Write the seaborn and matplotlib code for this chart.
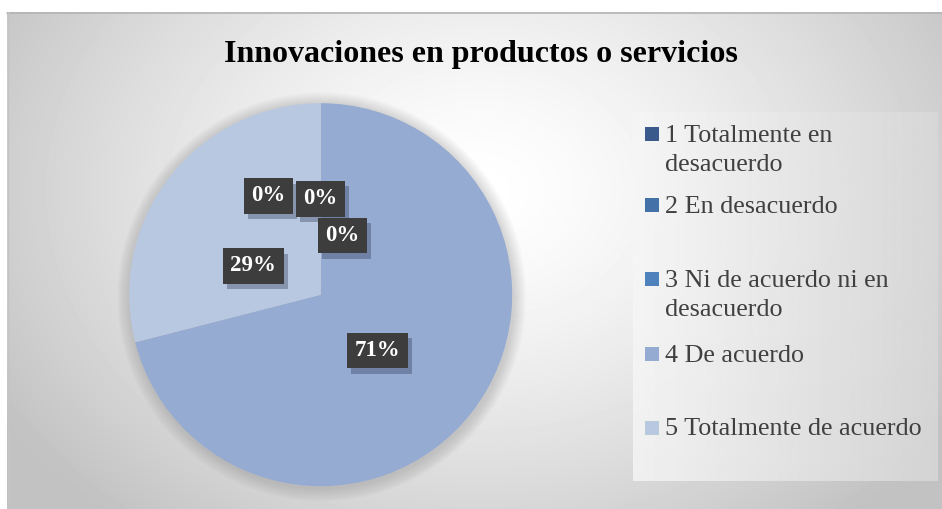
import numpy as np
import seaborn as sns
import matplotlib.pyplot as plt
import matplotlib.patheffects as pe
from matplotlib.patches import Rectangle, Circle

# data
categories = ["1 Totalmente en desacuerdo", "2 En desacuerdo",
              "3 Ni de acuerdo ni en desacuerdo", "4 De acuerdo",
              "5 Totalmente de acuerdo"]
legend_lines = [["1 Totalmente en", "desacuerdo"], ["2 En desacuerdo"],
                ["3 Ni de acuerdo ni en", "desacuerdo"], ["4 De acuerdo"],
                ["5 Totalmente de acuerdo"]]
values = [0, 0, 0, 71, 29]
title = "Innovaciones en productos o servicios"

colors = sns.color_palette(["#3b5a8c", "#4472a8", "#4f81bd", "#95abd2", "#b9c8e1"])

sns.set_theme(style="white")
plt.rcParams['font.family'] = ['Liberation Serif', 'DejaVu Serif']

W, H = 942, 509
fig = plt.figure(figsize=(W / 100, H / 100), dpi=100)

# background: radial grey gradient inside the chart frame
bg = fig.add_axes([0, 0, 1, 1])
yy, xx = np.mgrid[0:H, 0:W]
r = np.hypot((xx - 480) / 560, (yy - 190) / 430)
img = 1 - 0.24 * np.clip(r, 0, 1) ** 1.4
img[:12, :] = 1
img[:, :7] = 1
bg.imshow(img, cmap='gray', vmin=0, vmax=1, extent=(0, W, H, 0),
          interpolation='bilinear', aspect='auto')

# legend panel (subtle)
gx = np.linspace(0.965, 0.85, 300)[None, :].repeat(50, axis=0)
bg.imshow(gx, cmap='gray', vmin=0, vmax=1, extent=(633, 938, 481, 112),
          interpolation='bilinear', aspect='auto', alpha=0.8)
bg.plot([7, W], [12.5, 12.5], color='#b4b4b4', lw=1.2)
bg.plot([7.5, 7.5], [12, H], color='#c4c4c4', lw=1)
bg.set_xlim(0, W)
bg.set_ylim(H, 0)
bg.axis('off')

# soft shadow around the pie
cx, cy, rad = 320.7, 294.7, 191.5
for k in range(1, 14):
    bg.add_patch(Circle((cx + 1, cy + 2), rad + k, color='#505050', alpha=0.017, lw=0))

bg.text(481.3, 62.3, title, ha='center', va='baseline', fontsize=23,
        fontweight='bold', color='black')

# legend
baselines = [141.7, 212.7, 286.7, 361.7, 435]
for lines, col, base in zip(legend_lines, colors, baselines):
    bg.add_patch(Rectangle((645, base - 14.5), 14, 14, color=col, lw=0))
    for j, line in enumerate(lines):
        bg.text(665, base + 29 * j, line, va='baseline', ha='left',
                fontsize=18.8, color='#404040')

# pie
ax = fig.add_axes([(cx - rad) / W, (H - cy - rad) / H, 2 * rad / W, 2 * rad / H])
ax.pie(values, colors=colors, startangle=90, counterclock=False,
       wedgeprops=dict(linewidth=0))
ax.set_xlim(-1, 1)
ax.set_ylim(-1, 1)
ax.axis('off')

label_pos = [(-0.274, 0.516), (-0.002, 0.501), (0.113, 0.31),
             (0.296, -0.292), (-0.352, 0.15)]
for v, (px, py) in zip(values, label_pos):
    t = ax.text(px, py, f"{v:.0f}%", ha='center', va='center', fontsize=16.5,
                fontweight='bold', color='white',
                bbox=dict(boxstyle='square,pad=0.32', fc='#3d3d3d', ec='none'))
    t.get_bbox_patch().set_path_effects([
        pe.SimplePatchShadow(offset=(3, -4), shadow_rgbFace='#2a3550', alpha=0.35),
        pe.Normal()])

fig.savefig('out.png', dpi=100)
